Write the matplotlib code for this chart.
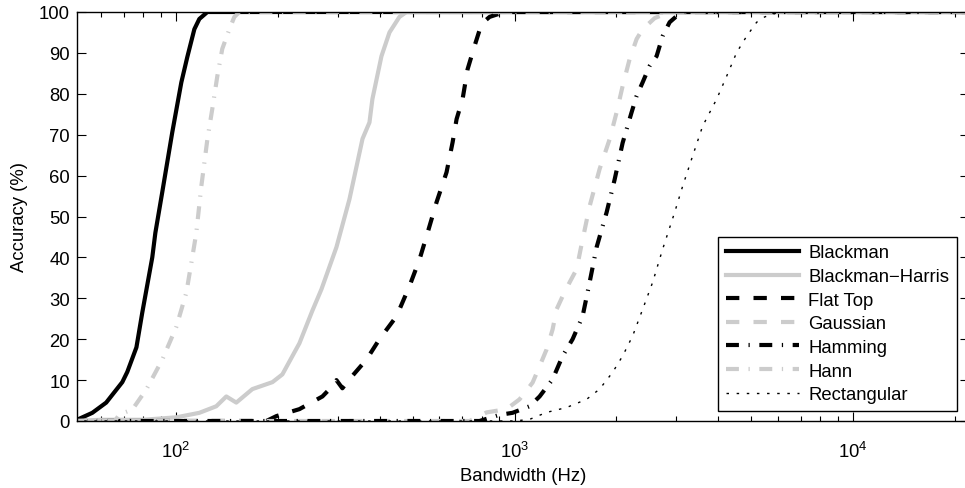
import matplotlib
matplotlib.use("Agg")
import matplotlib.pyplot as plt
from matplotlib.ticker import LogLocator, MultipleLocator

plt.rcParams['font.family'] = ['Liberation Sans', 'DejaVu Sans']
plt.rcParams['font.size'] = 13.3

# bandwidth (Hz) / accuracy (%) for each window
blackman_bw = [50, 50.7, 56.6, 62.2, 69.4, 71.8, 76.4, 79.5, 85.1, 86.9, 91.1, 97.5, 103.7, 108.0, 113.3, 117.2, 123.8, 22000]
blackman_acc = [0, 0.2, 2, 4.5, 9.5, 12, 18, 26.5, 40, 46, 56, 70.6, 82.8, 89, 95.8, 98.3, 100, 100]

bharris_bw = [50, 60, 80, 100.2, 117.2, 131.5, 140.8, 150.7, 168.1, 192.7, 206.2, 220.8, 231.5, 252.9, 268.9, 297.8,
              325.3, 355.6, 372.8, 380.3, 404.5, 427.1, 457.1, 479.7, 22000]
bharris_acc = [0, 0.3, 0.3, 0.9, 2, 3.6, 6, 4.5, 7.8, 9.5, 11.4, 15.9, 19, 27, 32.2, 42.5,
               54.2, 69, 73, 78.7, 89.2, 95, 98.8, 100, 100]

flattop_bw = [50, 184.9, 198.0, 231.5, 270.7, 289.7, 297.8, 310.1, 325.3, 365.2, 399, 448.1, 489.5, 524.0, 553.4,
              588.4, 629.7, 656.1, 674.2, 702.3, 726.6, 761.9, 799.0, 843.8, 903.0, 966, 22000]
flattop_acc = [0, 0, 1.2, 2.9, 6, 8.5, 10, 8, 10.2, 15, 20, 25.6, 33, 39.5, 46,
               53.5, 60.8, 68.1, 73.8, 78.7, 86, 91.7, 97.1, 98.8, 99.6, 100, 100]

gauss_bw = [50, 736.6, 826.8, 947.1, 1034.7, 1130.9, 1185.9, 1243.6, 1295.6, 1331.1, 1386.7, 1454.4, 1525.3, 1570,
            1666.3, 1783.5, 1909.5, 2002.7, 2085.9, 2187.6, 2294.4, 2390.0, 2593.6, 2872.4, 22000]
gauss_acc = [0, 0, 2.1, 2.9, 5.3, 9.4, 13.4, 17.5, 22.4, 27.3, 30.5, 33.9, 37.1, 42.3,
             52.5, 61.6, 68.9, 75.5, 81.9, 88.5, 93.4, 95.8, 98.5, 100, 100]

hamming_bw = [50, 787.9, 903.0, 986.5, 1107.6, 1185.9, 1295.6, 1386.7, 1484.2, 1588.7, 1666.3, 1747.7, 1870.4,
              1975, 2085.9, 2217.5, 2294.4, 2390, 2506, 2628, 2738, 2872, 3012, 3181, 22000]
hamming_acc = [0, 0, 1.5, 2, 3.6, 6, 10.2, 15.9, 20, 25.6, 33.9, 42.5, 51,
               59, 68, 75.5, 79.5, 82.8, 86.8, 89.2, 94.1, 97.5, 99, 100, 100]

hann_bw = [50, 66, 68.0, 74.3, 81.7, 91.1, 100.2, 107.3, 111.7, 114.8, 118.8, 123.8, 128.0, 132.5, 137.0, 143.8,
           148.7, 153.9, 22000]
hann_acc = [0, 0, 1.6, 2.8, 7.7, 15, 23, 31.4, 40, 46, 57.4, 68.9, 76.3, 84.4, 91, 95.8,
            98.8, 100, 100]

rect_bw = [50, 1000, 1107.6, 1243.6, 1424.7, 1632.4, 1783.5, 1948.5, 2085.9, 2233, 2390, 2558, 2738, 2971, 3137,
           3358, 3594, 3954, 4232, 4530, 4850, 5191, 5482, 6071, 22000]
rect_acc = [0, 0, 0.4, 2.1, 3.3, 5.3, 7.8, 11.9, 15.9, 20.8, 27.3, 33.9, 42, 51, 57.4,
            64.8, 72.1, 78.7, 84.3, 90.1, 94.1, 97.5, 98.8, 100, 100]

labels = ['Blackman', 'Blackman\u2212Harris', 'Flat Top', 'Gaussian', 'Hamming', 'Hann', 'Rectangular']

grey = (0.8, 0.8, 0.8)

fig = plt.figure(figsize=(9.65, 4.89), dpi=100)
ax = fig.add_axes([77 / 965, 1 - 422 / 489, 892 / 965, 409 / 489])

ax.plot(blackman_bw, blackman_acc, color='black', lw=3, label=labels[0])
ax.plot(bharris_bw, bharris_acc, color=grey, lw=3, label=labels[1])
ax.plot(flattop_bw, flattop_acc, color='black', lw=3, dashes=(3.2, 3.4), label=labels[2])
ax.plot(gauss_bw, gauss_acc, color=grey, lw=3, dashes=(3.2, 3.4), label=labels[3])
ax.plot(hamming_bw, hamming_acc, color='black', lw=3, dashes=(3.1, 2.3, 0.3, 2.3), label=labels[4])
ax.plot(hann_bw, hann_acc, color=grey, lw=3, dashes=(3.1, 2.3, 0.3, 2.3), label=labels[5])
ax.plot(rect_bw, rect_acc, color='black', lw=1, dashes=(1.8, 5.5), label=labels[6])

ax.set_xscale('log')
ax.set_xlim(51, 22000)
ax.set_ylim(0, 100)
ax.yaxis.set_major_locator(MultipleLocator(10))
ax.xaxis.set_major_locator(LogLocator(base=10))
ax.xaxis.set_minor_locator(LogLocator(base=10, subs=range(2, 10)))

ax.tick_params(which='both', direction='in', top=True, right=True, width=0.8)
ax.tick_params(which='major', length=6.5)
ax.tick_params(which='minor', length=3.3)
ax.tick_params(axis='x', which='major', pad=14)
ax.tick_params(axis='y', pad=5)
for s in ax.spines.values():
    s.set_linewidth(1.0)

ax.set_xlabel('Bandwidth (Hz)', labelpad=5)
ax.set_ylabel('Accuracy (%)', labelpad=8)

leg = ax.legend(loc='lower right', bbox_to_anchor=(0.9865, 0.0244), borderaxespad=0,
                handlelength=3.95, labelspacing=0.36, handletextpad=0.5, borderpad=0.42,
                fancybox=False, framealpha=1)
leg.get_frame().set_edgecolor('black')
leg.get_frame().set_linewidth(1.0)

fig.savefig('out.png', dpi=100)
